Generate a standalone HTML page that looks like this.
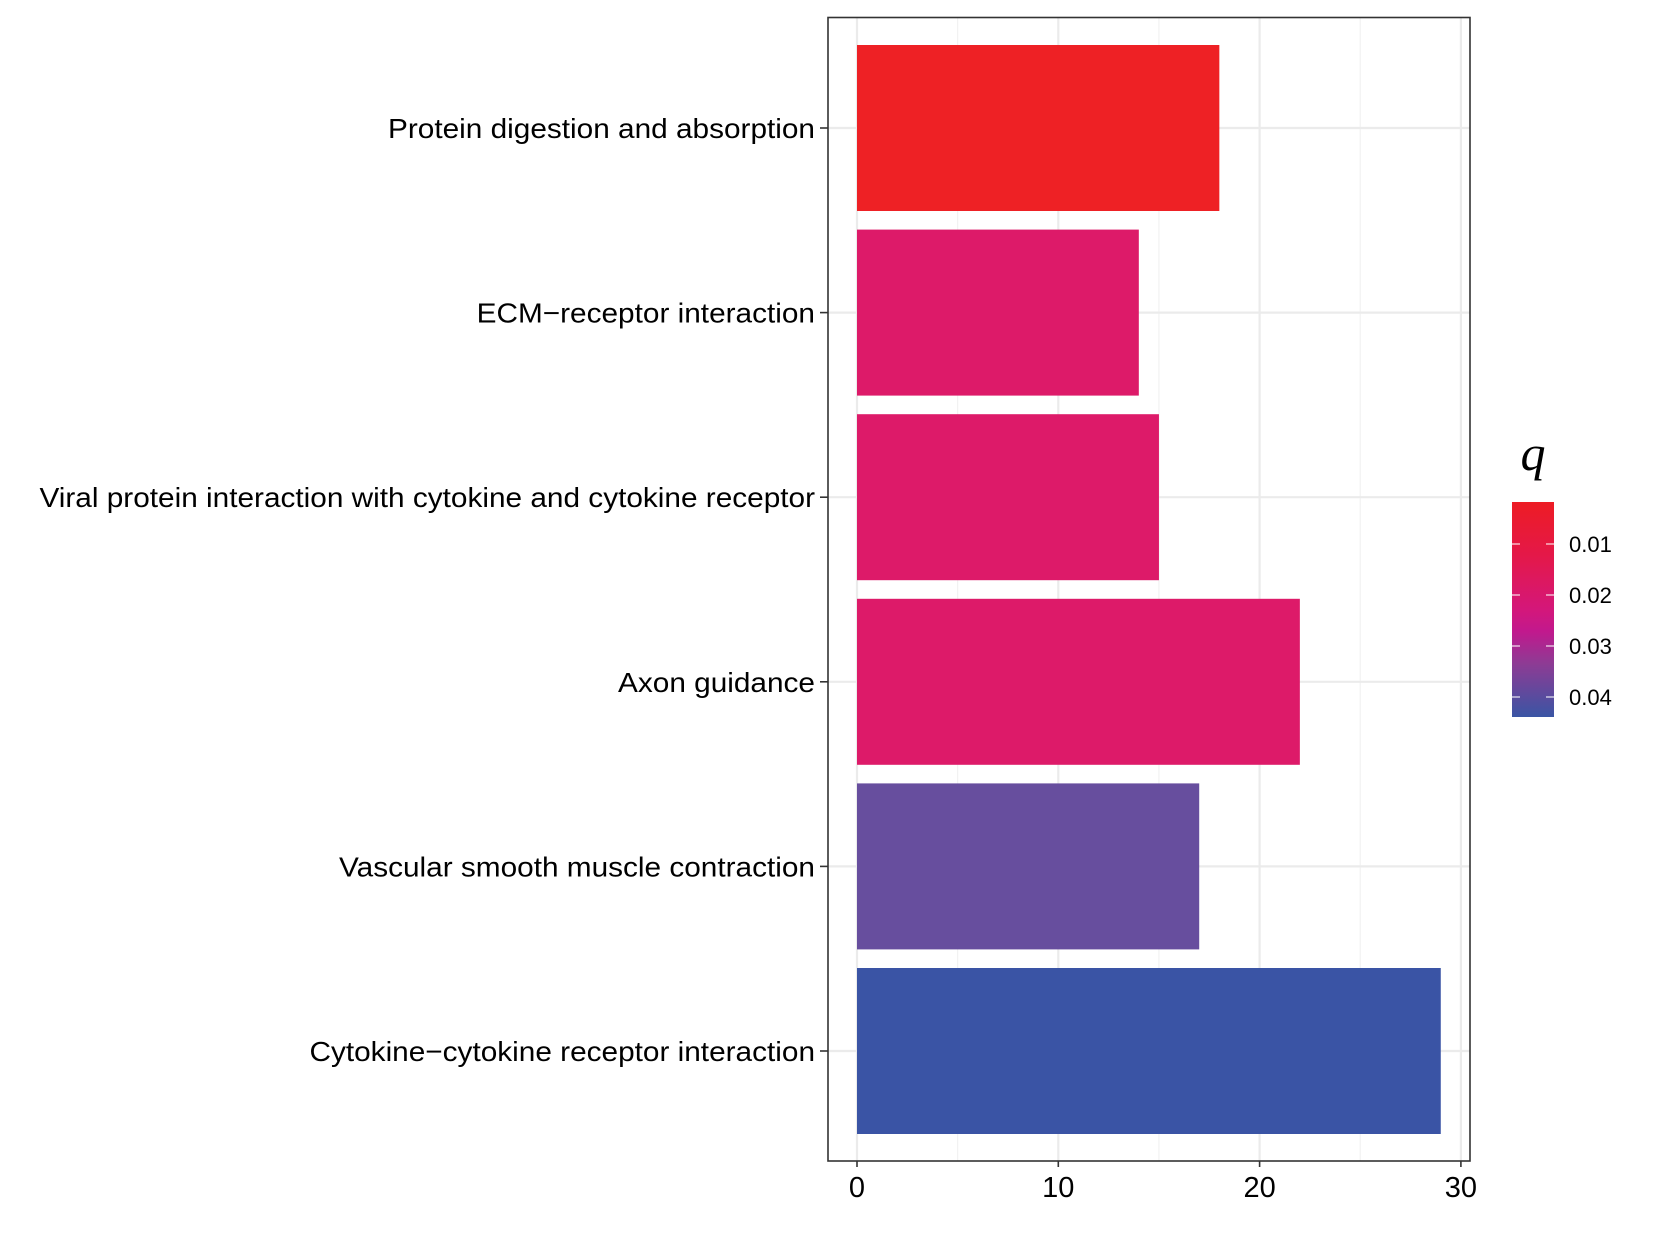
<!DOCTYPE html>
<html><head><meta charset="utf-8"><style>
html,body{margin:0;padding:0;background:#fff;}
svg text{font-family:"Liberation Sans",Arial,sans-serif;}
</style></head><body>
<svg id="chart" width="1654" height="1239" xmlns="http://www.w3.org/2000/svg">
<defs>
<linearGradient id="qgrad" x1="0" y1="0" x2="0" y2="1">
<stop offset="0" stop-color="#ED1C24"/>
<stop offset="0.25" stop-color="#E41849"/>
<stop offset="0.5" stop-color="#D4177A"/>
<stop offset="0.6" stop-color="#C2188D"/>
<stop offset="0.75" stop-color="#8E3B94"/>
<stop offset="1" stop-color="#3A55A4"/>
</linearGradient>
</defs>
<g id="grid"></g>
<g id="bars"></g>
<rect x="828" y="17.5" width="642" height="1143.5" fill="none" stroke="#333" stroke-width="1.6"/>
<g id="yaxis"></g>
<g id="xaxis"></g>
<g id="legend">
<text x="1533" y="470" font-size="50" font-style="italic" text-anchor="middle" style="font-family:'Liberation Serif',serif">q</text>
<rect x="1512" y="502" width="42" height="215" fill="url(#qgrad)"/>
</g>
</svg>
<script>
const categories = ["Protein digestion and absorption","ECM\u2212receptor interaction","Viral protein interaction with cytokine and cytokine receptor","Axon guidance","Vascular smooth muscle contraction","Cytokine\u2212cytokine receptor interaction"];
const counts = [18,14,15,22,17,29];
const qvalues = [0.003,0.017,0.017,0.017,0.035,0.043];
const barColors = ["#EE2125","#DD1A69","#DD1A69","#DD1A69","#674E9E","#3A54A5"];
const xTicks = [0,10,20,30];
const xMinor = [5,15,25];
const qTicks = [0.01,0.02,0.03,0.04];
const qTickLabels = ["0.01","0.02","0.03","0.04"];

const NS="http://www.w3.org/2000/svg";
const xs = v => 857 + v*20.13;
const bandStep = 184.6, bandH = 166;
const yc = i => 128 + i*bandStep;
const qy = q => 544 + (q-0.01)*5100;
const panelBottom = 1161;
function mk(tag, attrs, parent){const e=document.createElementNS(NS,tag);for(const k in attrs)e.setAttribute(k,attrs[k]);parent.appendChild(e);return e;}
const grid=document.getElementById('grid'), bars=document.getElementById('bars'), yax=document.getElementById('yaxis'), xax=document.getElementById('xaxis'), leg=document.getElementById('legend');
xMinor.forEach(v=>{const l=mk('line',{x1:xs(v),x2:xs(v),y1:18,y2:panelBottom,stroke:'#f2f2f2','stroke-width':1.2},grid);

});
xTicks.forEach(v=>{const l=mk('line',{x1:xs(v),x2:xs(v),y1:18,y2:panelBottom,stroke:'#ebebeb','stroke-width':2.2},grid);

});
categories.forEach((c,i)=>{const l=mk('line',{x1:828,x2:1470,y1:yc(i),y2:yc(i),stroke:'#ebebeb','stroke-width':2.2},grid);

});
counts.forEach((v,i)=>{const r=mk('rect',{x:xs(0),y:yc(i)-bandH/2,width:xs(v)-xs(0),height:bandH,fill:barColors[i]},bars);

});
let labels=[];
categories.forEach((c,i)=>{const t=mk('line',{x1:820,x2:828,y1:yc(i),y2:yc(i),stroke:'#333','stroke-width':1.6},yax);


const tx=mk('text',{x:815,y:yc(i)+10,'font-size':28,'text-anchor':'end',fill:'#000'},yax);tx.textContent=c;

labels.push(tx);});
const w=labels[2].getComputedTextLength(); const s=w>0?776/w:1;
labels.forEach(t=>t.setAttribute('transform','translate(815 0) scale('+s+' 1) translate(-815 0)'));
xTicks.forEach(v=>{const t=mk('line',{x1:xs(v),x2:xs(v),y1:panelBottom,y2:panelBottom+6,stroke:'#333','stroke-width':1.6},xax);


const tx=mk('text',{x:xs(v),y:1197,'font-size':29,'text-anchor':'middle',fill:'#000'},xax);tx.textContent=String(v);

});
qTicks.forEach((q,i)=>{const y=qy(q);
const a=mk('line',{x1:1512,x2:1520,y1:y,y2:y,stroke:'#fff','stroke-width':1.3,opacity:0.8},leg);


const b=mk('line',{x1:1546,x2:1554,y1:y,y2:y,stroke:'#fff','stroke-width':1.3,opacity:0.8},leg);


const tx=mk('text',{x:1569,y:y+8,'font-size':22,fill:'#000'},leg);tx.textContent=qTickLabels[i];

});
</script>
</body></html>
